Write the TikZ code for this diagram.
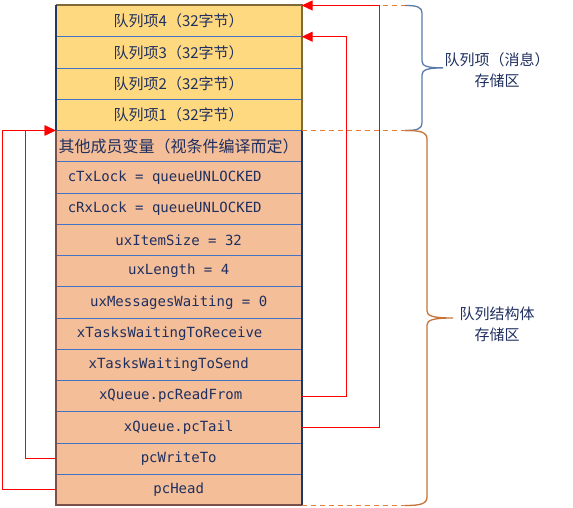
\documentclass[tikz,border=0pt]{standalone}
\usepackage{fontspec}
\newfontfamily\cjkfont{Noto Sans CJK SC}
\newfontfamily\codefont{DejaVu Sans Mono}
\usetikzlibrary{positioning,arrows.meta}

\begin{document}
\begin{tikzpicture}[x=1pt, y=-1pt,
    cell/.style={draw=rowLine, line width=0.8pt, fill=fillColourS, minimum width=246pt,
        minimum height=31.25pt, inner sep=0pt, outer sep=0pt, text=textColour,
        font=\codefont\fontsize{14pt}{16pt}\selectfont},
    itemcell/.style={cell, fill=fillColourQ, font=\cjkfont\fontsize{15pt}{18pt}\selectfont},
    nudge/.style={execute at end node={\hspace{#1}}},
    ptr/.style={draw=red, line width=1.2pt, -{Triangle[length=11pt,width=10pt]}},
    dashline/.style={draw=dashColour, line width=1.2pt, dash pattern=on 5pt off 4pt},
    note/.style={align=center, text=textColour, font=\cjkfont\fontsize{15pt}{21pt}\selectfont}]
    \definecolor{fillColourQ}{HTML}{FFD97F}
    \definecolor{fillColourS}{HTML}{F4BE98}
    \definecolor{rowLine}{HTML}{4472C4}
    \definecolor{textColour}{HTML}{1F2F5F}
    \definecolor{borderOlive}{HTML}{7F6A35}
    \definecolor{borderNavy}{HTML}{1F3864}
    \definecolor{borderBrown}{HTML}{7B5048}
    \definecolor{dashColour}{HTML}{ED7D31}
    \definecolor{braceBlue}{HTML}{5B7BA6}
    \definecolor{braceOrange}{HTML}{C8733A}

    \useasboundingbox (0,0) rectangle (573,508);

    % Queue items (message storage)
    \node[itemcell] (item4) at (178.7,21.1) {队列项4（32字节）};
    \node[itemcell, below=0pt of item4] (item3) {队列项3（32字节）};
    \node[itemcell, below=0pt of item3] (item2) {队列项2（32字节）};
    \node[itemcell, below=0pt of item2] (item1) {队列项1（32字节）};

    % Queue structure members
    \node[cell, below=0pt of item1, font=\cjkfont\fontsize{16pt}{18pt}\selectfont] (other) {其他成员变量（视条件编译而定）};
    \node[cell, nudge=28pt, below=0pt of other] (txLock) {cTxLock = queueUNLOCKED};
    \node[cell, nudge=28pt, below=0pt of txLock] (rxLock) {cRxLock = queueUNLOCKED};
    \node[cell, below=0pt of rxLock] (itemSize) {uxItemSize = 32};
    \node[cell, below=0pt of itemSize] (length) {uxLength = 4};
    \node[cell, below=0pt of length] (waiting) {uxMessagesWaiting = 0};
    \node[cell, nudge=18pt, below=0pt of waiting] (toReceive) {xTasksWaitingToReceive};
    \node[cell, nudge=20pt, below=0pt of toReceive] (toSend) {xTasksWaitingToSend};
    \node[cell, nudge=16pt, below=0pt of toSend] (readFrom) {xQueue.pcReadFrom};
    \node[cell, below=0pt of readFrom] (tail) {xQueue.pcTail};
    \node[cell, below=0pt of tail] (writeTo) {pcWriteTo};
    \node[cell, below=0pt of writeTo] (head) {pcHead};

    % Outer borders
    \draw[line width=2pt, borderOlive] (item4.north west) -- (item4.north east) -- (item1.south east);
    \draw[line width=2pt, borderNavy] (item4.north west) -- (item1.south west);
    \draw[line width=2pt, borderBrown] (other.north west) -- (head.south west) -- (head.south east);
    \draw[line width=2pt, borderNavy] (other.north east) -- (head.south east);

    % Dashed extents
    \draw[dashline] (item4.north east) -- ++(103,0);
    \draw[dashline] (item1.south east) -- ++(103,0);
    \draw[dashline] (head.south east) -- ++(103,0);

    % Pointers
    \draw[ptr] (tail.east) -- ++(78,0) |- (item4.north east);
    \draw[ptr] (readFrom.east) -- ++(45,0) |- (item4.south east);
    \draw[ptr] (writeTo.west) -- ++(-30,0) |- (item1.south west);
    \draw[ptr] (head.west) -- ++(-53,0) |- (item1.south west);

    % Braces
    \draw[braceBlue, line width=1.3pt] (405,5.5) .. controls (417,5.5) and (422,7) .. (422,13)
        -- (422,61) .. controls (422,66) and (427,67.9) .. (443,67.9)
        .. controls (427,67.9) and (422,70) .. (422,75)
        -- (422,123) .. controls (422,129) and (417,130.5) .. (405,130.5);
    \draw[braceOrange, line width=1.3pt] (405,130.5) .. controls (420,130.5) and (427,132) .. (427,139)
        -- (427,311) .. controls (427,316) and (433,318) .. (453,318)
        .. controls (433,318) and (427,320) .. (427,325)
        -- (427,497) .. controls (427,504) and (420,505.5) .. (405,505.5);

    \node[note] (msgNote) at (497,70) {队列项（消息）\\存储区};
    \node[note] (structNote) at (497,324) {队列结构体\\存储区};

\end{tikzpicture}
\end{document}
